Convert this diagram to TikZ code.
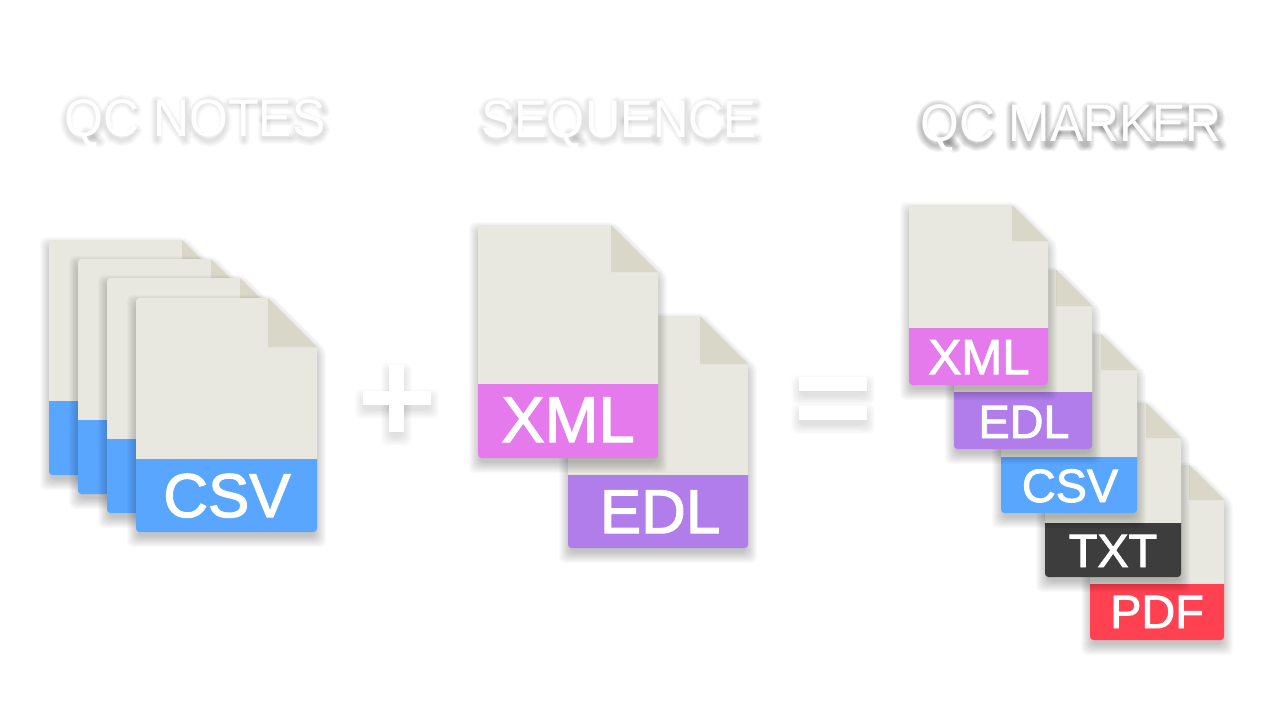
\documentclass[tikz,border=0pt]{standalone}
\usepackage{fontspec}
\setmainfont{Liberation Sans}
\newfontfamily\tagfont[FakeBold=2]{Liberation Sans}

\definecolor{qcpaper}{HTML}{E8E8E0}
\definecolor{qcfold}{HTML}{D8D7C8}
\definecolor{qccsv}{HTML}{58A6FF}
\definecolor{qcxml}{HTML}{E47AEC}
\definecolor{qcedl}{HTML}{B07DEB}
\definecolor{qctxt}{HTML}{3D3D3D}
\definecolor{qcpdf}{HTML}{FF4152}

% left, top, right, bottom, band top, fold size, band colour
\newcommand{\docsheet}[7]{%
  \foreach \g in {-2,...,9}
    \fill[black, opacity=0.02, rounded corners=1.5pt] (#1-\g,#2+6-\g) -- (#3-#6+\g*0.4,#2+6-\g) -- (#3+\g,#2+6+#6-\g*0.4) -- (#3+\g,#4+6+\g) -- (#1-\g,#4+6+\g) -- cycle;
  \fill[qcpaper, rounded corners=1pt] (#1,#5) -- (#1,#2) -- (#3-#6,#2) [sharp corners] -- (#3,#2+#6) -- (#3,#5) -- cycle;
  \fill[qcfold] (#3-#6,#2) -- (#3,#2+#6) -- (#3-#6,#2+#6) -- cycle;
  \fill[#7, rounded corners=1pt] (#3,#5) [sharp corners] -- (#3,#5+20) [rounded corners=1pt] -- (#3,#4) -- (#1,#4) [sharp corners] -- (#1,#5+20) -- (#1,#5) -- cycle;
}

% left, top, right, bottom
\newcommand{\softbar}[4]{%
  \foreach \g in {-1,...,8}
    \fill[black, opacity=0.012, rounded corners=1.5pt] (#1-\g,#2+6-\g) rectangle (#3+\g,#4+6+\g);
}

% left, baseline, xscale, strength, letter/offset list
\newcommand{\softword}[5]{%
  \def\op{#4}
  \foreach \w in {0.6,1.2,1.8,2.4,3,3.6}
    \foreach \c/\ox in {#5}
      \pic[xscale=0.534*#3, yscale=0.534] at ({#1+\ox*0.534*#3},#2+4) {qc\c};
}

\tikzset{
  qcblur/.style={draw=black, line width=\w pt, opacity=\op, line join=round, line cap=round},
  pics/qcQ/.style={code={\draw[qcblur] (39,-36) ellipse [x radius=32, y radius=37]; \draw[qcblur] (46,-14) -- (72,3);}},
  pics/qcO/.style={code={\draw[qcblur] (39,-36) ellipse [x radius=32, y radius=37];}},
  pics/qcC/.style={code={\draw[qcblur] (65,-56) -- (52,-70) -- (36,-73) -- (18,-65) -- (8,-48) -- (8,-24) -- (18,-7) -- (36,0) -- (52,-3) -- (66,-18);}},
  pics/qcN/.style={code={\draw[qcblur] (8,0) -- (8,-72) -- (64,0) -- (64,-72);}},
  pics/qcT/.style={code={\draw[qcblur] (2,-68) -- (59,-68); \draw[qcblur] (30,-68) -- (30,0);}},
  pics/qcE/.style={code={\draw[qcblur] (62,-68) -- (9,-68) -- (9,-4) -- (63,-4); \draw[qcblur] (9,-38) -- (58,-38);}},
  pics/qcS/.style={code={\draw[qcblur] (60,-54) -- (52,-67) -- (34,-72) -- (16,-67) -- (9,-55) -- (14,-44) -- (34,-37) -- (52,-31) -- (60,-19) -- (52,-6) -- (33,0) -- (14,-5) -- (6,-20);}},
  pics/qcU/.style={code={\draw[qcblur] (8,-72) -- (8,-24) -- (16,-6) -- (36,0) -- (56,-6) -- (64,-24) -- (64,-72);}},
  pics/qcM/.style={code={\draw[qcblur] (8,0) -- (8,-72) -- (41,0) -- (75,-72) -- (75,0);}},
  pics/qcA/.style={code={\draw[qcblur] (3,0) -- (33,-72) -- (64,0); \draw[qcblur] (14,-22) -- (53,-22);}},
  pics/qcR/.style={code={\draw[qcblur] (9,0) -- (9,-68) -- (46,-68) -- (60,-60) -- (63,-50) -- (60,-40) -- (46,-33) -- (9,-33); \draw[qcblur] (40,-33) -- (66,0);}},
  pics/qcK/.style={code={\draw[qcblur] (9,0) -- (9,-72); \draw[qcblur] (60,-72) -- (9,-25); \draw[qcblur] (27,-42) -- (63,0);}},
}

\begin{document}
\begin{tikzpicture}[
  x=0.01cm, y=-0.01cm,
  qctitle/.style={font=\fontsize{15}{17}\selectfont, text=white, anchor=base, inner sep=0pt, transform shape},
  qctag/.style={text=white, anchor=base, inner sep=0pt},
  qcbig/.style={qctag, font=\tagfont\fontsize{17.6}{20}\selectfont},
  qcsmall/.style={qctag, font=\tagfont\fontsize{13.3}{16}\selectfont},
]
  \useasboundingbox (0,0) rectangle (1280,720);
  \fill[white] (0,0) rectangle (1280,720);

  % title shadows, then titles
  \softword{63}{136}{0.947}{0.02}{Q/0,C/78,N/178,O/250,T/328,E/389,S/456}
  \softword{480}{137}{0.928}{0.02}{S/0,E/67,Q/134,U/212,E/284,N/351,C/423,E/495}
  \softword{918.5}{141}{0.943}{0.045}{Q/0,C/78,M/178,A/261,R/328,K/400,E/467,R/534}
  \node[qctitle, xscale=0.947] (tnotes) at (195,136) {QC NOTES};
  \node[qctitle, xscale=0.928] (tseq) at (619,137) {SEQUENCE};
  \node[qctitle, xscale=0.943] (tmarker) at (1071,141) {QC MARKER};

  % csv stack
  \docsheet{49}{240}{230}{475}{401}{48}{qccsv}
  \docsheet{78}{259}{259}{494}{420}{48}{qccsv}
  \docsheet{107}{278}{288}{513}{439}{48}{qccsv}
  \docsheet{136}{298}{317}{532}{459}{49}{qccsv}
  \node[qcbig] (lcsv) at (227,517) {CSV};

  % plus
  \softbar{363}{391}{431}{405}
  \softbar{389}{365}{404}{432}
  \fill[white] (363,391) rectangle (431,405);
  \fill[white] (389,365) rectangle (404,432);

  % sequence files
  \docsheet{568}{316}{748}{548}{475}{48}{qcedl}
  \node[qcbig] (ledl) at (660,533) {EDL};
  \docsheet{478}{225}{658}{458}{384}{47}{qcxml}
  \node[qcbig, font=\tagfont\fontsize{18.4}{20}\selectfont] (lxml) at (568,442) {XML};

  % equals
  \softbar{799}{377}{867}{391}
  \softbar{799}{406}{867}{420}
  \fill[white] (799,377) rectangle (867,391);
  \fill[white] (799,406) rectangle (867,420);

  % marker files, back to front
  \docsheet{1090}{465}{1224}{640}{584}{35}{qcpdf}
  \node[qcsmall] (mpdf) at (1157,628) {PDF};
  \docsheet{1045}{403}{1181}{577}{523}{35}{qctxt}
  \node[qcsmall] (mtxt) at (1113,567) {TXT};
  \docsheet{1001}{334}{1137}{513}{457}{36}{qccsv}
  \node[qcsmall] (mcsv) at (1070,502) {CSV};
  \docsheet{954}{270}{1092}{449}{392}{36}{qcedl}
  \node[qcsmall] (medl) at (1024,438) {EDL};
  \docsheet{909}{205}{1048}{385}{328}{36}{qcxml}
  \node[qcsmall, font=\tagfont\fontsize{14}{16}\selectfont] (mxml) at (979,374) {XML};
\end{tikzpicture}
\end{document}
